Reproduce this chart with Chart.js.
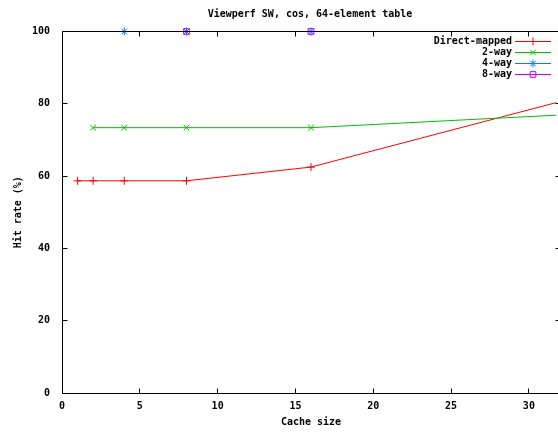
<!DOCTYPE html>
<html lang="en">
<head>
    <meta charset="UTF-8">
    <title>Viewperf SW, cos</title>
    <style>
        html, body { margin: 0; padding: 0; background: #fff; overflow: hidden; }
    </style>
</head>
<body>
    <canvas id="chart" width="565" height="432"></canvas>

<script src="https://cdn.jsdelivr.net/npm/chart.js@4.4.0/dist/chart.umd.min.js"></script>
<script>
    // Values
    var seriesNames = ['Direct-mapped', '2-way', '4-way', '8-way'];
    var dmSizes = [1, 2, 4, 8, 16, 32];
    var dmRates = [58.7, 58.7, 58.7, 58.7, 62.5, 80.6];
    var twoWaySizes = [2, 4, 8, 16, 32];
    var twoWayRates = [73.4, 73.4, 73.4, 73.4, 76.9];
    var fourWaySizes = [4, 8, 16, 32];
    var fourWayRates = [100, 100, 100, 100];
    var eightWaySizes = [8, 16, 32];
    var eightWayRates = [100, 100, 100];
    var xTicks = [0, 5, 10, 15, 20, 25, 30];
    var yTicks = [0, 20, 40, 60, 80, 100];

    var colors = ['#ff0000', '#00c000', '#0080ff', '#c000ff'];
    var styles = ['cross', 'crossRot', 'star', 'rect'];
    var FONT = '"DejaVu Sans Mono", monospace';

    function pts(xs, ys) {
        return xs.map(function (x, i) { return { x: x, y: ys[i] }; });
    }

    function ds(i, data) {
        return {
            label: seriesNames[i],
            data: data,
            order: 3 - i, // later series on top, like gnuplot
            borderColor: colors[i],
            backgroundColor: 'transparent',
            pointBorderColor: colors[i],
            pointBackgroundColor: 'transparent',
            pointStyle: styles[i],
            pointRadius: 4,
            pointBorderWidth: 1,
            borderWidth: 1,
            tension: 0,
            clip: { left: 8, top: 8, right: -4, bottom: 8 }
        };
    }

    // gnuplot style frame, inward ticks, title and legend
    var gnuplotFrame = {
        id: 'gnuplotFrame',
        afterDatasetsDraw: function (chart) {
            var ctx = chart.ctx, a = chart.chartArea;
            var xs = chart.scales.x, ys = chart.scales.y;
            var L = Math.floor(a.left) + 0.5, T = Math.floor(a.top) + 0.5;
            var R = Math.floor(a.right) + 0.5, B = Math.floor(a.bottom) + 0.5;
            ctx.save();
            ctx.strokeStyle = '#000';
            ctx.lineWidth = 1;
            ctx.beginPath();
            ctx.rect(L, T, R - L, B - T);
            ctx.stroke();
            ctx.beginPath();
            xTicks.forEach(function (v) {
                var px = Math.floor(xs.getPixelForValue(v)) + 0.5;
                ctx.moveTo(px, B); ctx.lineTo(px, B - 5);
                ctx.moveTo(px, T); ctx.lineTo(px, T + 5);
            });
            yTicks.forEach(function (v) {
                var py = Math.floor(ys.getPixelForValue(v)) + 0.5;
                ctx.moveTo(L, py); ctx.lineTo(L + 5, py);
                ctx.moveTo(R, py); ctx.lineTo(R - 5, py);
            });
            ctx.stroke();

            // title
            ctx.fillStyle = '#000';
            ctx.font = 'bold 10px ' + FONT;
            ctx.textAlign = 'center';
            ctx.textBaseline = 'middle';
            ctx.fillText('Viewperf SW, cos, 64-element table', 310, 14);

            // legend
            ctx.textAlign = 'right';
            chart.data.datasets.forEach(function (d, i) {
                var y = 41 + i * 11;
                ctx.fillStyle = '#000';
                ctx.fillText(d.label, 512, y);
                ctx.strokeStyle = d.borderColor;
                ctx.beginPath();
                ctx.moveTo(515, y + 0.5); ctx.lineTo(551, y + 0.5);
                ctx.stroke();
                ctx.fillStyle = 'rgba(0,0,0,0)';
                Chart.helpers.drawPoint(ctx, {
                    pointStyle: d.pointStyle, radius: 4, borderWidth: 1, rotation: 0
                }, 533, y + 0.5);
            });
            ctx.restore();
        }
    };

    var chart = new Chart(document.getElementById('chart').getContext('2d'), {
        type: 'line',
        data: {
            datasets: [
                ds(0, pts(dmSizes, dmRates)),
                ds(1, pts(twoWaySizes, twoWayRates)),
                ds(2, pts(fourWaySizes, fourWayRates)),
                ds(3, pts(eightWaySizes, eightWayRates))
            ]
        },
        options: {
            responsive: false,
            animation: false,
            devicePixelRatio: 1,
            layout: { padding: { top: 31.5, right: 2, left: 0, bottom: 0 } },
            plugins: {
                legend: { display: false },
                tooltip: { enabled: false }
            },
            scales: {
                x: {
                    type: 'linear',
                    min: 0,
                    max: 32,
                    afterFit: function (s) { s.height = 39; },
                    afterBuildTicks: function (s) {
                        s.ticks = xTicks.map(function (v) { return { value: v }; });
                    },
                    grid: { display: false, drawTicks: false },
                    border: { display: false },
                    ticks: {
                        padding: 7,
                        color: '#000',
                        maxRotation: 0,
                        autoSkip: false,
                        font: { family: FONT, size: 10, weight: 'bold' }
                    },
                    title: {
                        display: true,
                        text: 'Cache size',
                        color: '#000',
                        padding: { top: 0, bottom: 4 },
                        font: { family: FONT, size: 10, weight: 'bold' }
                    }
                },
                y: {
                    min: 0,
                    max: 100,
                    afterFit: function (s) { s.width = 62; },
                    afterBuildTicks: function (s) {
                        s.ticks = yTicks.map(function (v) { return { value: v }; });
                    },
                    grid: { display: false, drawTicks: false },
                    border: { display: false },
                    ticks: {
                        padding: 12,
                        color: '#000',
                        font: { family: FONT, size: 10, weight: 'bold' }
                    },
                    title: {
                        display: true,
                        text: 'Hit rate (%)',
                        color: '#000',
                        padding: { top: 12, bottom: 0 },
                        font: { family: FONT, size: 10, weight: 'bold' }
                    }
                }
            }
        },
        plugins: [gnuplotFrame]
    });
</script>
</body>
</html>
